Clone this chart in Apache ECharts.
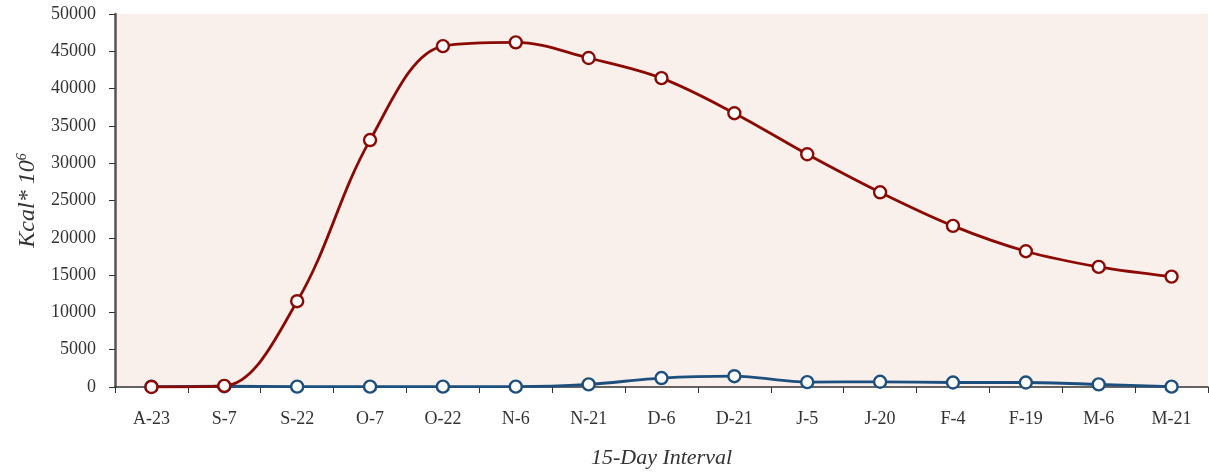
<!DOCTYPE html>
<html><head><meta charset="utf-8">
<script src="https://cdn.jsdelivr.net/npm/echarts@6/dist/echarts.min.js"></script>
<style>html,body{margin:0;padding:0;background:#fff}#c{width:1209px;height:475px}</style>
</head><body><div id="c"></div>
<script>
const categories = ['A-23','S-7','S-22','O-7','O-22','N-6','N-21','D-6','D-21','J-5','J-20','F-4','F-19','M-6','M-21'];
const redSeries = [0,150,11500,33100,45700,46200,44100,41400,36700,31200,26100,21600,18200,16100,14800];
const blueSeries = [50,100,50,50,50,50,350,1200,1450,650,700,600,600,350,50];
const yTicks = [0,5000,10000,15000,20000,25000,30000,35000,40000,45000,50000];

const font = 'Liberation Serif';
const chart = echarts.init(document.getElementById('c'));
chart.setOption({
  animation:false,
  grid:{left:115,right:1,top:14,bottom:88,backgroundColor:'#f9f0eb',show:true,borderWidth:0,containLabel:false,outerBoundsMode:'none'},
  xAxis:{type:'category',data:categories,boundaryGap:true,
    axisLine:{lineStyle:{color:'#333',width:1.5}},
    axisTick:{show:true,interval:0,length:6,lineStyle:{color:'#333'}},
    axisLabel:{fontFamily:font,fontSize:18,color:'#333',margin:23},
    name:'15-Day Interval',nameLocation:'middle',nameGap:60,
    nameTextStyle:{fontFamily:font,fontSize:22,fontStyle:'italic',color:'#333'}},
  yAxis:{type:'value',min:yTicks[0],max:yTicks[yTicks.length-1],interval:5000,
    splitLine:{show:false},
    axisLine:{show:true,lineStyle:{color:'#555',width:2.5}},
    axisTick:{show:true,inside:false,length:6,lineStyle:{color:'#333'}},
    axisLabel:{fontFamily:font,fontSize:18,color:'#333',margin:19,formatter:v=>String(v)},
    name:'{a|Kcal* 10}{s|6}',nameLocation:'middle',nameGap:73,nameRotate:90,
    nameTextStyle:{rich:{
      a:{fontFamily:font,fontSize:24,fontStyle:'italic',color:'#333'},
      s:{fontFamily:font,fontSize:14,fontStyle:'italic',color:'#333',verticalAlign:'top',padding:[0,0,12,0]}}}},
  series:[
    {type:'line',data:blueSeries,smooth:0.3,symbol:'circle',symbolSize:12,
      lineStyle:{color:'#1d4f7e',width:2.8},
      itemStyle:{color:'#fff',borderColor:'#1d4f7e',borderWidth:2.4},z:2},
    {type:'line',data:redSeries,smooth:0.35,symbol:'circle',symbolSize:12,
      lineStyle:{color:'#8b0a05',width:2.8},
      itemStyle:{color:'#fff',borderColor:'#8b0a05',borderWidth:2.4},z:3}
  ]
});
</script></body></html>
